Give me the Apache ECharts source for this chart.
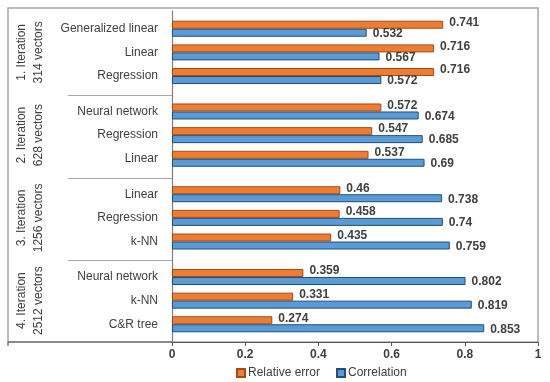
<!DOCTYPE html>
<html>
<head>
<meta charset="utf-8">
<script src="https://cdn.jsdelivr.net/npm/echarts@6/dist/echarts.min.js"></script>
<style>html,body{margin:0;padding:0;background:#fff;}#c{width:550px;height:382px;}</style>
</head>
<body>
<div id="c"></div>
<script>
// ---- data ----
const groupLabels = ['1. Iteration\n314 vectors', '2. Iteration\n628 vectors', '3. Iteration\n1256 vectors', '4. Iteration\n2512 vectors'];
const categories = [
  'Generalized linear', 'Linear', 'Regression',
  'Neural network', 'Regression', 'Linear',
  'Linear', 'Regression', 'k-NN',
  'Neural network', 'k-NN', 'C&R tree'
];
const relativeError = [0.741, 0.716, 0.716, 0.572, 0.547, 0.537, 0.46, 0.458, 0.435, 0.359, 0.331, 0.274];
const correlation   = [0.532, 0.567, 0.572, 0.674, 0.685, 0.69, 0.738, 0.74, 0.759, 0.802, 0.819, 0.853];
const xTicks = { min: 0, max: 1, interval: 0.2 };
const seriesNames = ['Relative error', 'Correlation'];

// ---- layout: each group gets 7 half-slots (pad, item, gap, item, gap, item, pad) ----
const SLOTS_PER_GROUP = 7;
const nSlots = groupLabels.length * SLOTS_PER_GROUP;
const slotOf = i => SLOTS_PER_GROUP * Math.floor(i / 3) + 1 + 2 * (i % 3);
const slotCats = new Array(nSlots).fill('');
const slotErr = new Array(nSlots).fill('-');
const slotCor = new Array(nSlots).fill('-');
categories.forEach((c, i) => {
  const s = slotOf(i);
  slotCats[s] = c; slotErr[s] = relativeError[i]; slotCor[s] = correlation[i];
});

const W = 550, H = 382;
const gLeft = 172, gRight = 12, gTop = 11, gBottom = 40;
const plotH = H - gTop - gBottom;
const slotH = plotH / nSlots;
const FONT = 'Liberation Sans';
const TXT = '#404040';

const graphics = [
  { type: 'rect', shape: { x: 8, y: 8, width: W - gRight - 8, height: H - gBottom - 8 },
    style: { fill: 'none', stroke: '#a6a6a6', lineWidth: 1.5 }, z: 0, silent: true },
  { type: 'line', shape: { x1: 8, y1: H - gBottom, x2: gLeft, y2: H - gBottom },
    style: { stroke: '#595959', lineWidth: 1.2 }, z: 5, silent: true },
  { type: 'line', shape: { x1: 8, y1: H - gBottom, x2: 8, y2: H - gBottom + 4 },
    style: { stroke: '#595959', lineWidth: 1.2 }, z: 5, silent: true }
];
for (let g = 1; g < groupLabels.length; g++) {
  const y = Math.round(gTop + g * SLOTS_PER_GROUP * slotH) + 1.5;
  graphics.push({ type: 'line', shape: { x1: 68, y1: y, x2: gLeft, y2: y },
    style: { stroke: '#a6a6a6', lineWidth: 1.2 }, z: 5, silent: true });
}

const chart = echarts.init(document.getElementById('c'), null, { renderer: 'canvas' });
chart.setOption({
  animation: false,
  backgroundColor: '#fff',
  textStyle: { fontFamily: FONT },
  grid: { left: gLeft, right: gRight, top: gTop, bottom: gBottom, containLabel: false },
  legend: {
    data: seriesNames, left: 231, top: 362, itemWidth: 8, itemHeight: 8, itemGap: 16,
    icon: 'rect',
    textStyle: { fontFamily: FONT, fontSize: 12, color: TXT, padding: [0, 0, 0, -2] }
  },
  xAxis: {
    type: 'value', min: xTicks.min, max: xTicks.max, interval: xTicks.interval,
    axisLine: { show: true, lineStyle: { color: '#595959', width: 1.2 } },
    axisTick: { show: true, length: 4, lineStyle: { color: '#595959' } },
    splitLine: { show: false },
    axisLabel: { color: TXT, fontSize: 12, fontWeight: 'bold', margin: 7, fontFamily: FONT }
  },
  yAxis: [
    {
      type: 'category', data: slotCats, inverse: true,
      axisLine: { show: true, lineStyle: { color: '#7f7f7f', width: 1.2 } },
      axisTick: { show: false },
      axisLabel: { interval: 0, color: TXT, fontSize: 12, margin: 14, fontFamily: FONT }
    },
    {
      type: 'category', data: groupLabels, inverse: true, position: 'left', offset: 117,
      axisLine: { show: false }, axisTick: { show: false },
      axisLabel: { interval: 0, rotate: 90, color: TXT, fontSize: 12, lineHeight: 17, margin: 8, fontFamily: FONT }
    }
  ],
  series: [
    {
      name: seriesNames[0], type: 'bar', yAxisIndex: 0, data: slotErr,
      barWidth: 8, barGap: '0%',
      itemStyle: { color: '#ED7D31', borderColor: '#A5491A', borderWidth: 1 },
      label: { show: true, position: 'right', distance: 6, offset: [0, -2], color: TXT,
               fontSize: 12, fontWeight: 'bold', fontFamily: FONT }
    },
    {
      name: seriesNames[1], type: 'bar', yAxisIndex: 0, data: slotCor,
      barWidth: 8, barGap: '0%',
      itemStyle: { color: '#5B9BD5', borderColor: '#1F4E79', borderWidth: 1 },
      label: { show: true, position: 'right', distance: 6, offset: [0, 1], color: TXT,
               fontSize: 12, fontWeight: 'bold', fontFamily: FONT }
    }
  ],
  graphic: graphics
});
</script>
</body>
</html>
